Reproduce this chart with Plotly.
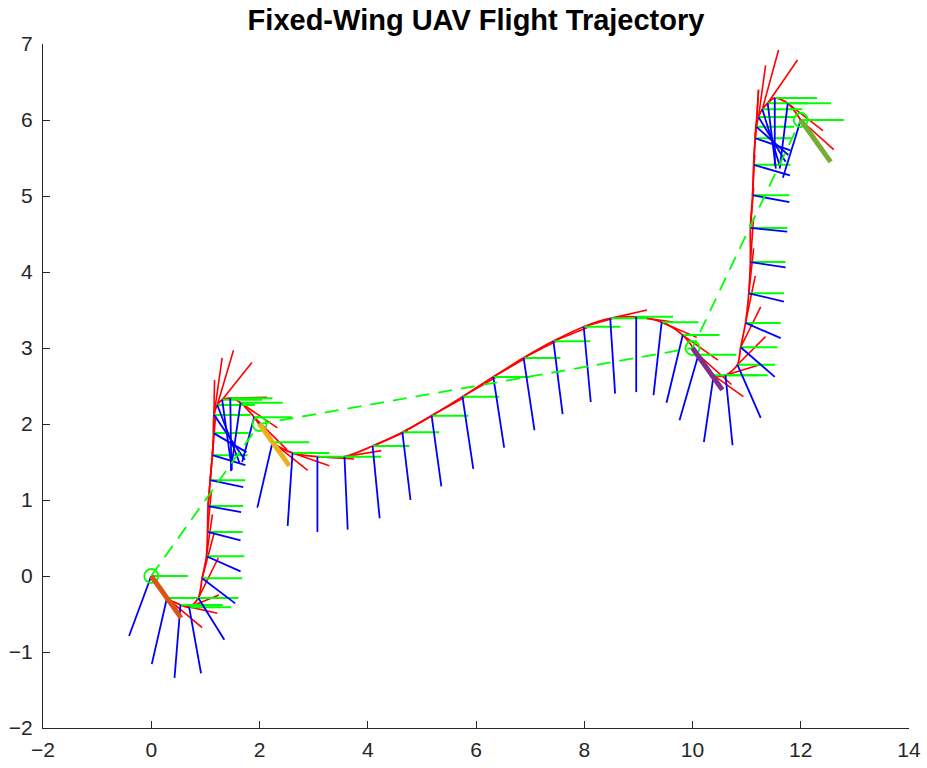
import plotly.graph_objects as go
import numpy as np

# ---------------- data ----------------
# trajectory sample points (frame origins)
traj_x = [0.00, 0.29, 0.54, 0.70, 0.87, 0.94, 1.02, 1.04, 1.05, 1.09,
          1.13, 1.15, 1.16, 1.22, 1.31, 1.46, 1.65, 1.90, 2.24, 2.61,
          3.07, 3.57, 4.09, 4.64, 5.18, 5.75, 6.32, 6.88, 7.43, 7.99,
          8.48, 8.96, 9.43, 9.82, 10.11, 10.39, 10.61, 10.83, 10.89, 10.98,
          11.04, 11.07, 11.07, 11.11, 11.13, 11.16, 11.18, 11.22, 11.29, 11.39,
          11.52, 11.76, 12.00]
traj_y = [0.00, -0.29, -0.38, -0.41, -0.29, -0.03, 0.26, 0.58, 0.92, 1.26,
          1.59, 1.88, 2.12, 2.25, 2.32, 2.34, 2.28, 2.09, 1.76, 1.62,
          1.57, 1.57, 1.71, 1.89, 2.11, 2.36, 2.62, 2.87, 3.09, 3.28,
          3.39, 3.41, 3.34, 3.17, 2.91, 2.64, 2.64, 2.78, 3.01, 3.33,
          3.72, 4.13, 4.58, 5.01, 5.41, 5.76, 5.91, 6.04, 6.14, 6.22,
          6.29, 6.22, 6.00]

# body x-axis (red), projected components
bx_u = [0.46, 0.65, 0.68, 0.55, 0.37, 0.22, 0.11, 0.07, 0.06, 0.06,
        0.06, 0.02, 0.15, 0.30, 0.55, 0.68, 0.68, 0.61, 0.65, 0.68,
        0.68, 0.68, 0.65, 0.61, 0.61, 0.61, 0.61, 0.61, 0.63, 0.65,
        0.68, 0.68, 0.65, 0.65, 0.61, 0.55, 0.63, 0.52, 0.37, 0.18,
        0.09, 0.06, 0.06, 0.04, 0.04, 0.06, 0.04, 0.13, 0.30, 0.55,
        0.74, 0.65, 0.61]
bx_v = [-0.43, -0.39, -0.11, 0.16, 0.53, 0.59, 0.55, 0.53, 0.53, 0.53,
        0.53, 0.70, 0.75, 0.72, 0.49, 0.01, -0.33, -0.43, -0.37, -0.17,
        -0.03, 0.08, 0.20, 0.24, 0.24, 0.25, 0.25, 0.22, 0.18, 0.13,
        0.11, -0.07, -0.20, -0.33, -0.39, -0.28, 0.14, 0.37, 0.53, 0.62,
        0.59, 0.59, 0.53, 0.53, 0.53, 0.63, 0.49, 0.68, 0.78, 0.57,
        0.00, -0.36, -0.39]

# body y-axis (green), projected length (horizontal)
by_u = [0.68, 0.74, 0.78, 0.78, 0.74, 0.74, 0.70, 0.65, 0.65, 0.65,
        0.65, 0.65, 0.67, 0.70, 0.74, 0.78, 0.78, 0.70, 0.68, 0.68,
        0.68, 0.68, 0.68, 0.68, 0.68, 0.68, 0.68, 0.68, 0.68, 0.68,
        0.68, 0.68, 0.68, 0.68, 0.70, 0.83, 0.78, 0.70, 0.68, 0.65,
        0.65, 0.65, 0.68, 0.68, 0.68, 0.68, 0.70, 0.70, 0.74, 0.74,
        0.78, 0.80, 0.80]

# body z-axis (blue), projected components
bz_u = [-0.41, -0.28, -0.11, 0.22, 0.48, 0.61, 0.63, 0.61, 0.61, 0.61,
        0.61, 0.61, 0.57, 0.41, 0.18, 0.02, -0.18, -0.22, -0.28, -0.09,
        0.00, 0.06, 0.13, 0.15, 0.18, 0.20, 0.20, 0.20, 0.17, 0.13,
        0.09, 0.00, -0.15, -0.30, -0.35, -0.18, 0.13, 0.43, 0.63, 0.65,
        0.65, 0.65, 0.68, 0.68, 0.67, 0.65, 0.59, 0.50, 0.33, 0.15,
        0.00, -0.15, -0.33]
bz_v = [-0.79, -0.87, -0.96, -0.87, -0.55, -0.33, -0.20, -0.11, -0.08, -0.09,
        -0.13, -0.25, -0.59, -0.76, -0.92, -0.96, -0.89, -0.59, -0.86, -0.96,
        -0.99, -0.96, -0.95, -0.89, -0.93, -0.95, -0.93, -0.95, -0.96, -0.99,
        -0.99, -0.99, -0.96, -0.89, -0.86, -0.88, -0.92, -0.70, -0.39, -0.20,
        -0.11, -0.07, -0.05, -0.09, -0.14, -0.16, -0.37, -0.59, -0.76, -0.86,
        -0.89, -0.86, -0.76]

# waypoints
wp_x = [0, 2, 10, 12]
wp_y = [0, 2, 3, 6]
wp_heading_deg = [-45, -45, -45, -45]
wp_heading_len = 0.78
wp_colors = ["#D95319", "#EDB120", "#7E2F8E", "#77AC30"]

title_text = "Fixed-Wing UAV Flight Trajectory"
x_range = [-2, 14]
y_range = [-2, 7]

n = len(traj_x)
assert all(len(a) == n for a in [traj_y, bx_u, bx_v, by_u, bz_u, bz_v])


def segments(x0, y0, u, v):
    xs, ys = [], []
    for a, b, du, dv in zip(x0, y0, u, v):
        xs += [a, a + du, None]
        ys += [b, b + dv, None]
    return xs, ys


fig = go.Figure()

rx, ry = segments(traj_x, traj_y, bx_u, bx_v)
gx, gy = segments(traj_x, traj_y, by_u, [0.0] * n)
zx, zy = segments(traj_x, traj_y, bz_u, bz_v)

# flown path
fig.add_trace(go.Scatter(x=traj_x, y=traj_y, mode="lines",
                         line=dict(color="#FF0000", width=1.8, shape="spline", smoothing=0.8),
                         hoverinfo="skip"))
fig.add_trace(go.Scatter(x=rx, y=ry, mode="lines",
                         line=dict(color="#FF0000", width=1.6), hoverinfo="skip"))
fig.add_trace(go.Scatter(x=gx, y=gy, mode="lines",
                         line=dict(color="#00FF00", width=2.0), hoverinfo="skip"))
fig.add_trace(go.Scatter(x=zx, y=zy, mode="lines",
                         line=dict(color="#0000FF", width=1.8), hoverinfo="skip"))

# dashed waypoint path
fig.add_trace(go.Scatter(x=wp_x, y=wp_y, mode="lines",
                         line=dict(color="#00FF00", width=1.8, dash="14px,9px"),
                         hoverinfo="skip"))
# waypoint circles
fig.add_trace(go.Scatter(x=wp_x, y=wp_y, mode="markers",
                         marker=dict(symbol="circle-open", size=14,
                                     color="#00FF00", line=dict(width=1.8, color="#00FF00")),
                         hoverinfo="skip"))
# waypoint headings
for x0, y0, hd, c in zip(wp_x, wp_y, wp_heading_deg, wp_colors):
    ang = np.deg2rad(hd)
    fig.add_trace(go.Scatter(x=[x0, x0 + wp_heading_len * np.cos(ang)],
                             y=[y0, y0 + wp_heading_len * np.sin(ang)],
                             mode="lines", line=dict(color=c, width=5),
                             hoverinfo="skip"))

axis_common = dict(showgrid=False, zeroline=False, showline=True, automargin=False,
                   linecolor="#262626", linewidth=1, ticks="inside",
                   ticklen=7, tickwidth=1, tickcolor="#262626", mirror=False,
                   tickfont=dict(family="Liberation Sans, Arial, sans-serif",
                                 size=21, color="#262626"))

fig.update_layout(
    width=927, height=768,
    margin=dict(l=43, r=18, t=44, b=40),
    paper_bgcolor="white", plot_bgcolor="white",
    showlegend=False,
    title=dict(text="<b>" + title_text + "</b>", x=0.5135, xanchor="center",
               y=0.974, yanchor="middle",
               font=dict(family="Liberation Sans, Arial, sans-serif", size=29,
                         color="#000000")),
    xaxis=dict(range=x_range, dtick=2, tick0=0, ticklabelstandoff=3, **axis_common),
    yaxis=dict(range=y_range, dtick=1, tick0=0, ticklabelstandoff=5, **axis_common),
)

fig.write_html("out.html", config={"displayModeBar": False},
               post_script="document.body.style.margin='0';"
                           "document.body.style.overflow='hidden';")
